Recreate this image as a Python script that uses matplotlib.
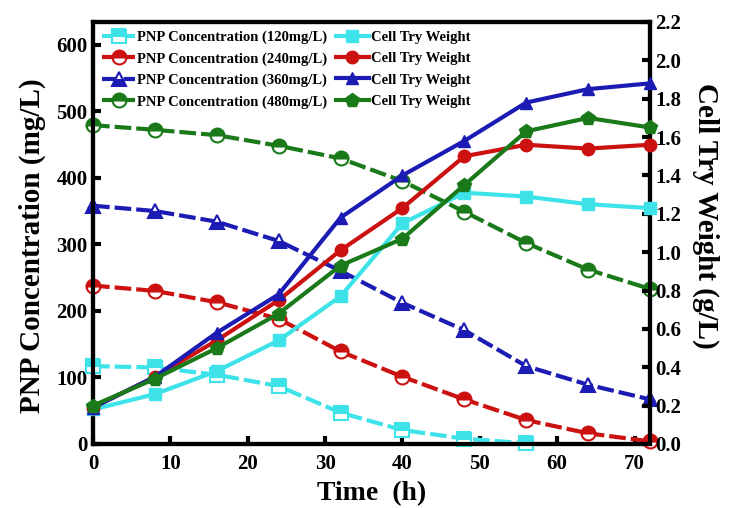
import numpy as np
import matplotlib.pyplot as plt
from matplotlib.markers import MarkerStyle

plt.rcParams['font.family'] = ['Liberation Serif', 'DejaVu Serif']
plt.rcParams['font.weight'] = 'bold'

time = [0, 8, 16, 24, 32, 40, 48, 56, 64, 72]

# PNP concentration (mg/L), left axis
pnp_120 = [117, 115, 104, 87, 47, 21, 8, 1]
pnp_240 = [238, 230, 213, 188, 139, 101, 67, 36, 16, 4]
pnp_360 = [358, 350, 334, 305, 260, 212, 171, 117, 89, 67]
pnp_480 = [479, 472, 464, 448, 429, 395, 349, 302, 262, 233]

# cell dry weight (g/L), right axis
cell_120 = [0.18, 0.26, 0.38, 0.54, 0.77, 1.15, 1.31, 1.29, 1.25, 1.23]
cell_240 = [0.19, 0.35, 0.54, 0.75, 1.01, 1.23, 1.50, 1.56, 1.54, 1.56]
cell_360 = [0.19, 0.35, 0.58, 0.78, 1.18, 1.40, 1.58, 1.78, 1.85, 1.88]
cell_480 = [0.20, 0.34, 0.50, 0.68, 0.93, 1.07, 1.35, 1.63, 1.70, 1.65]

pnp_labels = ['PNP Concentration (120mg/L)', 'PNP Concentration (240mg/L)',
              'PNP Concentration (360mg/L)', 'PNP Concentration (480mg/L)']
colors = ['#3ee3ea', '#cc1111', '#1c1cb4', '#1a7a1a']
markers = ['s', 'o', '^', 'o']
cell_markers = ['s', 'o', '^', 'p']
fills = ['top', 'top', 'bottom', 'top']

fig = plt.figure(figsize=(7.29, 5.08), dpi=100)
ax = fig.add_axes([0.1276, 0.126, 0.7640, 0.8307])
ax2 = ax.twinx()

pnp_all = [pnp_120, pnp_240, pnp_360, pnp_480]
cell_all = [cell_120, cell_240, cell_360, cell_480]

h_pnp = []
h_cell = []
for i in range(4):
    y = pnp_all[i]
    l1, = ax.plot(time[:len(y)], y, color=colors[i], lw=3, ls=(0, (4, 1.2)),
                  marker=MarkerStyle(markers[i], fillstyle=fills[i]), ms=10,
                  markerfacecolor=colors[i], markerfacecoloralt='white',
                  markeredgecolor=colors[i], markeredgewidth=1.5,
                  clip_on=False, zorder=3)
    h_pnp.append(l1)
for i in range(4):
    l2, = ax2.plot(time, cell_all[i], color=colors[i], lw=3,
                   marker=cell_markers[i], ms=10 if i == 3 else 9,
                   mfc=colors[i], mec=colors[i], clip_on=False, zorder=3)
    h_cell.append(l2)

ax.set_xlim(0, 72)
ax.set_ylim(0, 634)
ax2.set_ylim(0, 2.2)
ax.set_xticks(np.arange(0, 71, 10))
ax.set_yticks(np.arange(0, 601, 100))
ax2.set_yticks(np.arange(0, 2.21, 0.2))
ax2.set_yticklabels(['%.1f' % v for v in np.arange(0, 2.21, 0.2)])

for a in (ax, ax2):
    for s in a.spines.values():
        s.set_linewidth(3)
    a.tick_params(direction='in', length=6, width=3, labelsize=15, pad=4)
ax.tick_params(axis='x', pad=7)

ax.set_xlabel('Time  (h)', fontsize=20, fontweight='bold', labelpad=5)
ax.set_ylabel('PNP Concentration (mg/L)', fontsize=21, fontweight='bold')
ax.yaxis.set_label_coords(-0.085, 0.47)
ax2.set_ylabel('Cell Try Weight (g/L)', fontsize=21, fontweight='bold',
               rotation=270, va='center')
ax2.yaxis.set_label_coords(1.1, 0.54)

ax2.legend(h_pnp + h_cell, pnp_labels + ['Cell Try Weight'] * 4, ncol=2,
           loc='upper left', bbox_to_anchor=(0.0, 1.0), frameon=False,
           prop={'family': 'Liberation Serif', 'weight': 'bold', 'size': 10.5},
           handlelength=2.3, handletextpad=0.1, columnspacing=0.6,
           labelspacing=0.55, borderaxespad=0.2)

fig.savefig('out.png', dpi=100)
